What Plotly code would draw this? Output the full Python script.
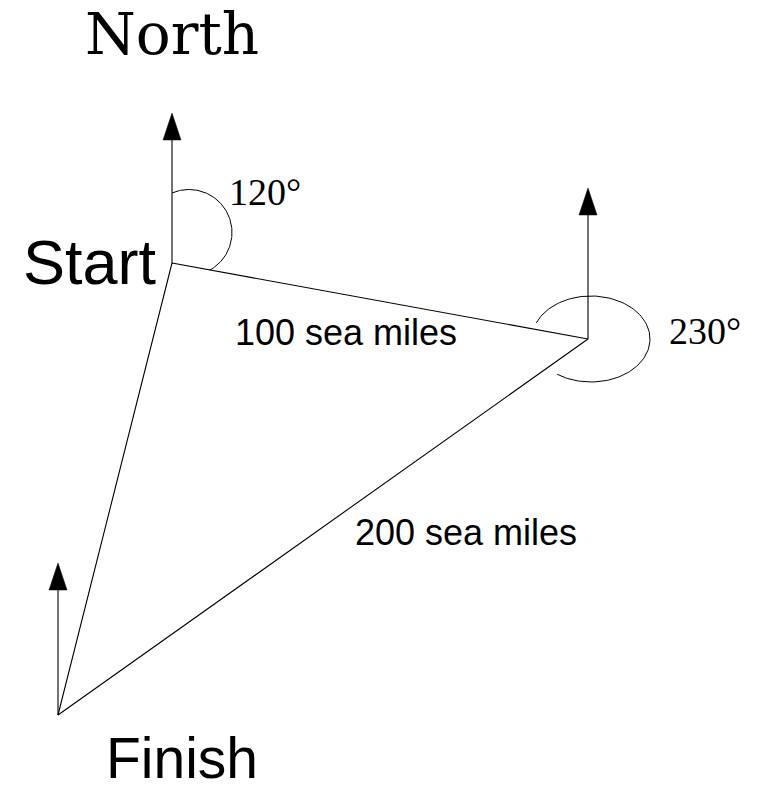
import numpy as np
import plotly.graph_objects as go

# --- diagram data (pixel-space coordinates) ---
stations = ["Start", "Turn", "Finish"]
station_x = [172, 588, 58]
station_y = [263, 339, 715]
north_arrow_len = [150, 151, 152]

leg_labels = ["100 sea miles", "200 sea miles"]
leg_label_x = [346, 466]
leg_label_y = [332, 532]

bearing_labels = ["120°", "230°"]
bearing_label_x = [265, 705]
bearing_label_y = [192, 331]

# bearing arcs: centre x, centre y, radius x, radius y, start angle, end angle (deg, math orientation)
arc_cx = [189, 591]
arc_cy = [232.5, 339]
arc_rx = [43, 59]
arc_ry = [43, 43]
arc_a0 = [113, 158]
arc_a1 = [-61, -125]

HEAD_LEN = 27
HEAD_W = 18
LINE = dict(color="black", width=1.1)

fig = go.Figure()

# triangle course
fig.add_trace(go.Scatter(
    x=station_x + [station_x[0]], y=station_y + [station_y[0]],
    mode="lines", line=LINE, hoverinfo="skip"))

# north arrows
for sx, sy, L in zip(station_x, station_y, north_arrow_len):
    tip = sy - L
    base = tip + HEAD_LEN
    fig.add_trace(go.Scatter(x=[sx, sx], y=[sy, base], mode="lines",
                             line=LINE, hoverinfo="skip"))
    fig.add_trace(go.Scatter(x=[sx - HEAD_W / 2, sx, sx + HEAD_W / 2, sx - HEAD_W / 2],
                             y=[base, tip, base, base], mode="lines",
                             fill="toself", fillcolor="black",
                             line=dict(color="black", width=0.5), hoverinfo="skip"))

# bearing arcs
for cx, cy, rx, ry, a0, a1 in zip(arc_cx, arc_cy, arc_rx, arc_ry, arc_a0, arc_a1):
    t = np.radians(np.linspace(a0, a1, 120))
    fig.add_trace(go.Scatter(x=cx + rx * np.cos(t), y=cy - ry * np.sin(t),
                             mode="lines", line=dict(color="black", width=1),
                             hoverinfo="skip"))

ann = []
ann.append(dict(x=station_x[0], y=34, text="North",
                font=dict(family="DejaVu Serif", size=58, color="black")))
ann.append(dict(x=90, y=262, text="Start",
                font=dict(family="Liberation Sans", size=63, color="black")))
ann.append(dict(x=182, y=758, text="Finish",
                font=dict(family="Liberation Sans", size=57, color="black")))
for t, x, y in zip(leg_labels, leg_label_x, leg_label_y):
    ann.append(dict(x=x, y=y, text=t,
                    font=dict(family="Liberation Sans", size=36, color="black")))
for t, x, y in zip(bearing_labels, bearing_label_x, bearing_label_y):
    ann.append(dict(x=x, y=y, text=t,
                    font=dict(family="Liberation Serif", size=38, color="black")))
for a in ann:
    a.update(xref="x", yref="y", showarrow=False, xanchor="center", yanchor="middle")

fig.update_layout(
    width=759, height=790,
    margin=dict(l=0, r=0, t=0, b=0),
    paper_bgcolor="white", plot_bgcolor="white",
    showlegend=False,
    xaxis=dict(range=[0, 759], visible=False, fixedrange=True),
    yaxis=dict(range=[790, 0], visible=False, fixedrange=True),
    annotations=ann,
)

fig.write_html("out.html", config={"displayModeBar": False},
               post_script="document.body.style.margin='0';")
